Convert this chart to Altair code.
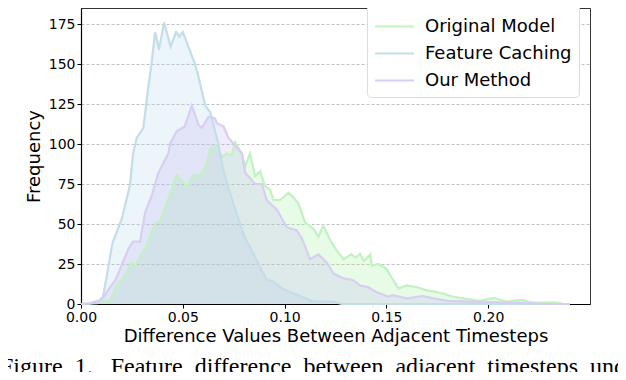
import altair as alt
import pandas as pd

series_names = ["Original Model", "Feature Caching", "Our Method"]
line_colors = ["#c2f1c2", "#c3dde9", "#d8cdf2"]
fill_colors = ["#90ee90", "#a9d3e6", "#c0a8f0"]

orig_x = [0.0, 0.0044, 0.0143, 0.0175, 0.0208, 0.0249, 0.0266, 0.0315, 0.0364, 0.0388, 0.0429, 0.047,
          0.052, 0.0552, 0.0585, 0.0618, 0.0634, 0.0667, 0.0691, 0.0716, 0.074, 0.0757, 0.079, 0.0806,
          0.083, 0.0855, 0.088, 0.0904, 0.0929, 0.0945, 0.0978, 0.1019, 0.104, 0.1068, 0.110, 0.1142,
          0.1166, 0.119, 0.1224, 0.1253, 0.129, 0.1327, 0.135, 0.137, 0.139, 0.1421, 0.1428, 0.146,
          0.150, 0.156, 0.160, 0.165, 0.170, 0.1748, 0.183, 0.189, 0.196, 0.2026, 0.209, 0.2166, 0.222,
          0.234, 0.237, 0.24]
orig_y = [0, 0.3, 2.4, 11.6, 16.6, 26, 24, 35, 50, 52, 65.5, 80.7,
          73.6, 80.7, 80, 88, 97, 99, 92, 94, 93, 101, 94, 86,
          94, 80, 83, 73.6, 71.5, 65, 65, 69.5, 67, 63, 51, 47,
          42, 49, 40, 34, 28, 31, 29, 31.4, 27, 31, 24, 25,
          22, 9.6, 11.6, 10.5, 8.5, 7.5, 4.5, 3.2, 2, 3.8, 1.5, 2.6, 0.8,
          0.8, 0, 0]

cache_x = [0.0, 0.008, 0.0108, 0.0126, 0.015, 0.0157, 0.020, 0.024, 0.0256, 0.0274, 0.0306, 0.033,
           0.0347, 0.0364, 0.0383, 0.0408, 0.044, 0.0467, 0.0483, 0.050, 0.0527, 0.056, 0.0575, 0.061,
           0.0634, 0.0675, 0.0698, 0.072, 0.0747, 0.080, 0.0863, 0.091, 0.0945, 0.099, 0.1076, 0.113,
           0.117, 0.124, 0.128, 0.24]
cache_y = [0, 0.5, 4.5, 17, 35, 39, 53, 74, 94, 104, 110, 135,
           151, 170, 159, 176, 161, 170, 167, 170, 161, 150, 143, 124,
           120, 100, 84, 74, 63, 43, 27, 15.6, 14, 9.5, 5, 2,
           1.5, 1.5, 0, 0]

ours_x = [0.0, 0.004, 0.0093, 0.0115, 0.0143, 0.017, 0.0208, 0.0235, 0.0256, 0.029, 0.0315, 0.0347,
          0.038, 0.0429, 0.0437, 0.047, 0.051, 0.0544, 0.0577, 0.0593, 0.0626, 0.0658, 0.0667, 0.070,
          0.0724, 0.0757, 0.079, 0.0806, 0.0855, 0.0888, 0.0912, 0.0962, 0.101, 0.106, 0.1085, 0.1125,
          0.1166, 0.1207, 0.124, 0.129, 0.1335, 0.137, 0.141, 0.145, 0.151, 0.153, 0.160, 0.168, 0.173,
          0.180, 0.190, 0.205, 0.22, 0.23, 0.24]
ours_y = [0, 0.3, 2.4, 5, 10.5, 15, 27, 35, 39, 39, 57, 67.5,
          82, 94, 100, 108, 111, 124, 112, 110, 117, 116, 113, 111,
          104, 99, 94, 82, 75, 75, 65, 59, 48, 46, 41, 28,
          31, 26, 19, 16, 15, 11.6, 10.5, 7.5, 4.5, 5.5, 3.5, 5, 3.5,
          2, 1.5, 1, 0.5, 0, 0]

x_ticks = [0.0, 0.05, 0.10, 0.15, 0.20]
y_ticks = [0, 25, 50, 75, 100, 125, 150, 175]
NB = "\u00a0"
caption_words = ["Figure", "1.", "Feature", "difference", "between", "adjacent", "timesteps", "und"]
caption = (caption_words[0] + NB * 2 + caption_words[1] + NB * 3
           + (NB * 2).join(caption_words[2:]))

rows = []
for name, xs, ys in [(series_names[0], orig_x, orig_y),
                     (series_names[1], cache_x, cache_y),
                     (series_names[2], ours_x, ours_y)]:
    for i, (a, b) in enumerate(zip(xs, ys)):
        rows.append({"series": name, "x": a, "y": b, "i": i})
df = pd.DataFrame(rows)

xscale = alt.Scale(domain=[0, 0.25], nice=False, zero=False)
yscale = alt.Scale(domain=[0, 185], nice=False)
x_axis = alt.Axis(values=x_ticks, format=".2f", labelFlush=False,
                  title="Difference Values Between Adjacent Timesteps", grid=False)
y_axis = alt.Axis(values=y_ticks, title="Frequency", grid=True, labelFlush=False)

area_layers = []
for name, fc in zip(series_names, fill_colors):
    area_layers.append(
        alt.Chart(df).transform_filter(alt.datum.series == name)
        .mark_area(fill=fc, opacity=0.22, orient="vertical")
        .encode(x=alt.X("x:Q", scale=xscale, axis=x_axis),
                y=alt.Y("y:Q", scale=yscale, axis=y_axis),
                y2=alt.datum(0))
    )

lines = alt.Chart(df).mark_line(strokeWidth=2.2).encode(
    x=alt.X("x:Q", scale=xscale, axis=x_axis),
    y=alt.Y("y:Q", scale=yscale, axis=y_axis, stack=None),
    color=alt.Color("series:N", scale=alt.Scale(domain=series_names, range=line_colors),
                    legend=alt.Legend(title=None, orient="none", legendX=286, legendY=-3,
                                      symbolType="M-1.5,0L1.5,0", symbolSize=676, symbolStrokeWidth=2.2,
                                      symbolOffset=6,
                                      labelFontSize=18, labelFont="DejaVu Sans", labelColor="black",
                                      labelOffset=16, rowPadding=3, padding=7,
                                      strokeColor="#dddddd", fillColor="white", cornerRadius=4,
                                      labelLimit=300)),
    order="i:Q",
)

caption_layer = alt.Chart(pd.DataFrame({"t": [caption]})).mark_text(
    align="left", baseline="alphabetic", font="Liberation Serif", fontSize=24, color="black"
).encode(text="t:N", x=alt.value(-81), y=alt.value(366))

chart = alt.layer(*area_layers, lines, caption_layer).properties(
    width=509, height=296,
    padding={"left": 73, "top": 0, "right": 28, "bottom": 68},
    autosize=alt.AutoSizeParams(type="none"),
).configure_view(stroke="#333333", strokeWidth=1).configure_axis(
    labelFont="DejaVu Sans", titleFont="DejaVu Sans", labelFontSize=14, titleFontSize=18,
    labelColor="black", titleColor="black", titleFontWeight="normal",
    domainColor="black", domainWidth=1.2, tickColor="black", tickSize=4, tickWidth=1,
    gridColor="#b0b0b0", gridDash=[3, 2], gridWidth=0.8, labelPadding=2,
).configure_axisX(titlePadding=3).configure_axisY(titlePadding=5)

chart.save("out.html", embed_options={"renderer": "svg", "actions": False})
